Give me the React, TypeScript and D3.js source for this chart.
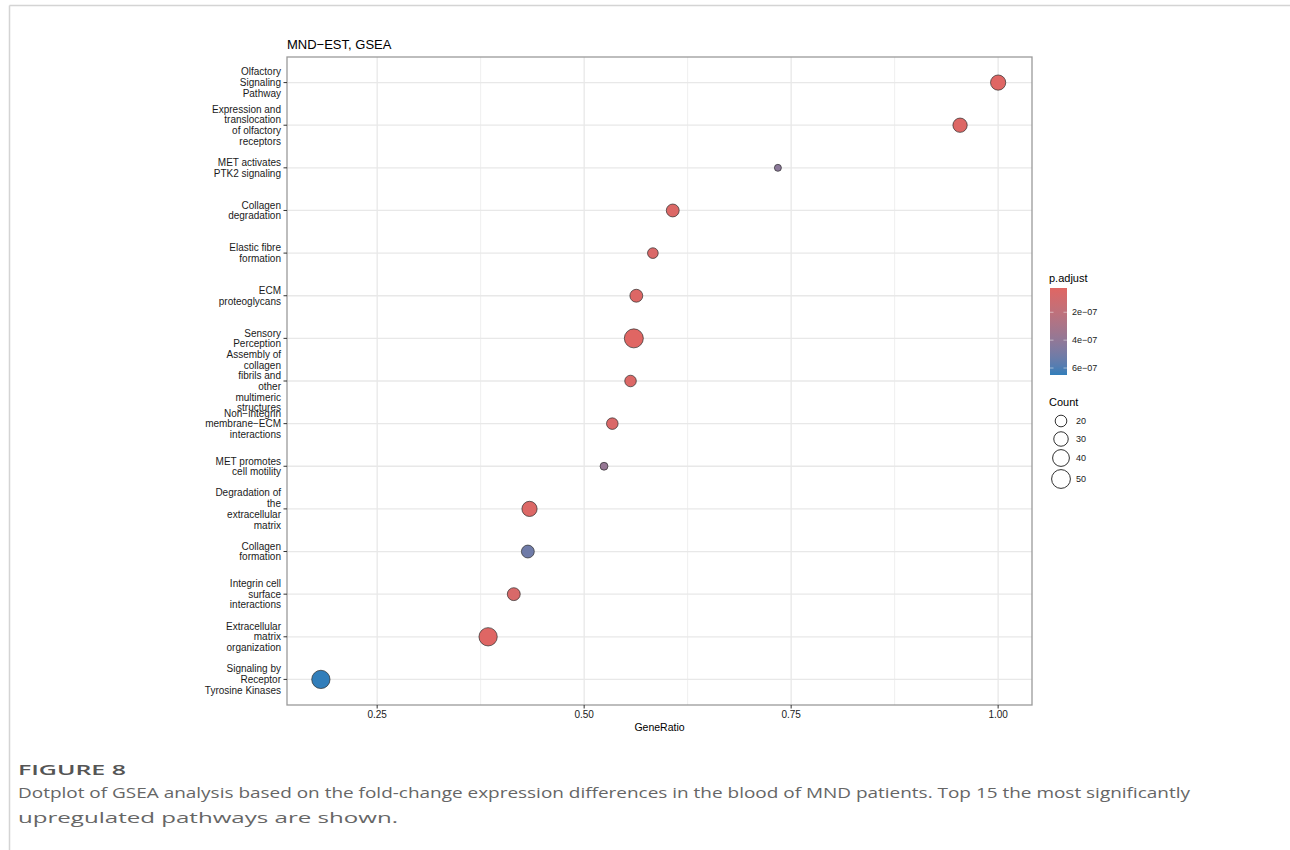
import React from 'react';
import * as d3 from 'd3';

// pathway labels, already wrapped the way the figure shows them (top to bottom)
const pathways: string[][] = [
  ['Olfactory', 'Signaling', 'Pathway'],
  ['Expression and', 'translocation', 'of olfactory', 'receptors'],
  ['MET activates', 'PTK2 signaling'],
  ['Collagen', 'degradation'],
  ['Elastic fibre', 'formation'],
  ['ECM', 'proteoglycans'],
  ['Sensory', 'Perception'],
  ['Assembly of', 'collagen', 'fibrils and', 'other', 'multimeric', 'structures'],
  ['Non\u2212integrin', 'membrane\u2212ECM', 'interactions'],
  ['MET promotes', 'cell motility'],
  ['Degradation of', 'the', 'extracellular', 'matrix'],
  ['Collagen', 'formation'],
  ['Integrin cell', 'surface', 'interactions'],
  ['Extracellular', 'matrix', 'organization'],
  ['Signaling by', 'Receptor', 'Tyrosine Kinases'],
];

const geneRatio = [1.0, 0.954, 0.734, 0.607, 0.583, 0.563, 0.56, 0.556, 0.534, 0.524, 0.434, 0.432, 0.415, 0.384, 0.182];
const counts = [40, 36, 12, 30, 22, 30, 60, 25, 25, 14, 40, 30, 30, 56, 56];
const pAdjust = [3e-8, 4e-8, 4.2e-7, 5e-8, 6e-8, 4e-8, 2.6e-8, 5e-8, 6e-8, 3.8e-7, 5e-8, 5.2e-7, 7e-8, 3e-8, 6.5e-7];

const xTicks = [0.25, 0.5, 0.75, 1.0];
const xMinor = [0.375, 0.625, 0.875];
const colorTicks = [2e-7, 4e-7, 6e-7];
const colorTickLabels = ['2e\u221207', '4e\u221207', '6e\u221207'];
const sizeBreaks = [20, 30, 40, 50];

const captionTitle = 'FIGURE 8';
const captionLines = [
  'Dotplot of GSEA analysis based on the fold-change expression differences in the blood of MND patients. Top 15 the most significantly',
  'upregulated pathways are shown.',
];
const captionWidths = [1172, 380];

const FONT = '"Liberation Sans", Arial, Helvetica, sans-serif';
const CAPTION_FONT = '"Open Sans", "Noto Sans", sans-serif';

export default function App() {
  const W = 1290;
  const H = 850;
  const panel = { left: 287, right: 1032, top: 57, bottom: 705 };

  const [xmin, xmax] = d3.extent(geneRatio) as [number, number];
  const pad = (xmax - xmin) * 0.05;
  const x = d3.scaleLinear().domain([xmin - pad, xmax + pad]).range([panel.left, panel.right]);

  const y = d3
    .scalePoint<number>()
    .domain(d3.range(pathways.length))
    .range([panel.top, panel.bottom])
    .padding(0.6);

  const [cmin, cmax] = d3.extent(counts) as [number, number];
  const area = d3.scaleLinear().domain([cmin, cmax]).range([12.25, 90.25]);
  const r = (c: number) => Math.sqrt(area(c));

  const [pmin, pmax] = d3.extent(pAdjust) as [number, number];
  const color = d3
    .scaleLinear<string>()
    .domain([pmin, pmax])
    .range(['#e06663', '#327eba'])
    .interpolate(d3.interpolateLab);

  const bar = { x: 1050, y: 288, w: 17, h: 87 };
  const barY = d3.scaleLinear().domain([pmin, pmax]).range([bar.y, bar.y + bar.h]);
  const gradStops = d3.range(0, 1.0001, 0.1);

  const lineH = 10.7;

  return (
    <div style={{ position: 'absolute', left: 0, top: 0 }}>
      <svg width={W} height={H} style={{ display: 'block', background: '#fff' }}>
        <defs>
          <linearGradient id="pgrad" x1="0" y1="0" x2="0" y2="1">
            {gradStops.map((t) => (
              <stop key={t} offset={t} stopColor={color(pmin + t * (pmax - pmin))} />
            ))}
          </linearGradient>
        </defs>

        {/* figure frame */}
        <line x1={9.5} x2={W} y1={5.5} y2={5.5} stroke="#d4d4d4" strokeWidth={1.5} />
        <line x1={9.5} x2={9.5} y1={5.5} y2={H} stroke="#d4d4d4" strokeWidth={1.5} />

        {/* title */}
        <text x={panel.left} y={49} fontFamily={FONT} fontSize={13} fill="#000">
          MND{'\u2212'}EST, GSEA
        </text>

        {/* grid */}
        {xMinor.map((t) => (
          <line key={'m' + t} x1={x(t)} x2={x(t)} y1={panel.top} y2={panel.bottom} stroke="#efefef" strokeWidth={1} />
        ))}
        {xTicks.map((t) => (
          <line key={'g' + t} x1={x(t)} x2={x(t)} y1={panel.top} y2={panel.bottom} stroke="#e8e8e8" strokeWidth={1.3} />
        ))}
        {pathways.map((_, i) => (
          <line key={'h' + i} x1={panel.left} x2={panel.right} y1={y(i)} y2={y(i)} stroke="#e8e8e8" strokeWidth={1.3} />
        ))}

        {/* points */}
        {geneRatio.map((g, i) => (
          <circle
            key={'p' + i}
            cx={x(g)}
            cy={y(i)!}
            r={r(counts[i])}
            fill={color(pAdjust[i])}
            stroke="#2b2b2b"
            strokeWidth={0.7}
          />
        ))}

        {/* panel border */}
        <rect
          x={panel.left}
          y={panel.top}
          width={panel.right - panel.left}
          height={panel.bottom - panel.top}
          fill="none"
          stroke="#9a9a9a"
          strokeWidth={1.3}
        />

        {/* y axis */}
        {pathways.map((lines, i) => {
          const cy = y(i)!;
          return (
            <g key={'y' + i}>
              <line x1={panel.left - 3.5} x2={panel.left} y1={cy} y2={cy} stroke="#333" strokeWidth={1} />
              <text textAnchor="end" fontFamily={FONT} fontSize={10} fill="#1a1a1a">
                {lines.map((ln, k) => (
                  <tspan key={k} x={panel.left - 6} y={cy + (k - (lines.length - 1) / 2) * lineH + 3.6}>
                    {ln}
                  </tspan>
                ))}
              </text>
            </g>
          );
        })}

        {/* x axis */}
        {xTicks.map((t) => (
          <g key={'x' + t}>
            <line x1={x(t)} x2={x(t)} y1={panel.bottom} y2={panel.bottom + 3.5} stroke="#333" strokeWidth={1} />
            <text x={x(t)} y={panel.bottom + 13} textAnchor="middle" fontFamily={FONT} fontSize={10} fill="#1a1a1a">
              {d3.format('.2f')(t)}
            </text>
          </g>
        ))}
        <text
          x={(panel.left + panel.right) / 2}
          y={731}
          textAnchor="middle"
          fontFamily={FONT}
          fontSize={10.5}
          fill="#000"
        >
          GeneRatio
        </text>

        {/* colour legend */}
        <text x={1049} y={282} fontFamily={FONT} fontSize={11} fill="#000">
          p.adjust
        </text>
        <rect x={bar.x} y={bar.y} width={bar.w} height={bar.h} fill="url(#pgrad)" />
        {colorTicks.map((t, i) => (
          <g key={'c' + t}>
            <line x1={bar.x} x2={bar.x + 3.5} y1={barY(t)} y2={barY(t)} stroke="#fff" strokeOpacity={0.6} strokeWidth={0.8} />
            <line x1={bar.x + bar.w - 3.5} x2={bar.x + bar.w} y1={barY(t)} y2={barY(t)} stroke="#fff" strokeOpacity={0.6} strokeWidth={0.8} />
            <text x={bar.x + bar.w + 5} y={barY(t) + 3} fontFamily={FONT} fontSize={9} fill="#1a1a1a">
              {colorTickLabels[i]}
            </text>
          </g>
        ))}

        {/* size legend */}
        <text x={1049} y={406} fontFamily={FONT} fontSize={11} fill="#000">
          Count
        </text>
        {sizeBreaks.map((b, i) => {
          const cy = [421, 439, 458, 479][i];
          return (
            <g key={'s' + b}>
              <circle cx={1061} cy={cy} r={r(b) + 0.8} fill="none" stroke="#1a1a1a" strokeWidth={0.9} />
              <text x={1076} y={cy + 3} fontFamily={FONT} fontSize={9} fill="#1a1a1a">
                {b}
              </text>
            </g>
          );
        })}

        {/* caption */}
        <text
          x={18}
          y={775}
          fontFamily={CAPTION_FONT}
          fontSize={15}
          fontWeight={600}
          fill="#555"
          textLength={108}
          lengthAdjust="spacingAndGlyphs"
        >
          {captionTitle}
        </text>
        {captionLines.map((ln, i) => (
          <text
            key={'cap' + i}
            x={18}
            y={798 + i * 24.5}
            fontFamily={CAPTION_FONT}
            fontSize={15}
            fill="#666"
            textLength={captionWidths[i]}
            lengthAdjust="spacingAndGlyphs"
          >
            {ln}
          </text>
        ))}
      </svg>
    </div>
  );
}
